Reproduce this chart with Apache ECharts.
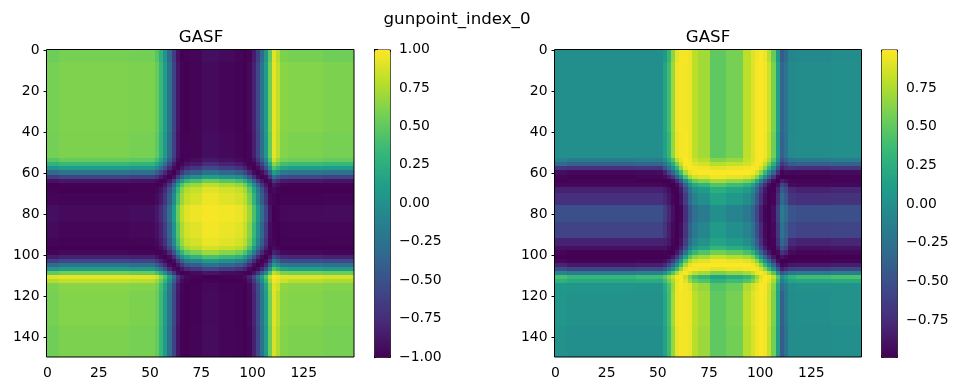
<!DOCTYPE html>
<html>
<head>
<meta charset="utf-8">
<style>html,body{margin:0;background:#fff}#main{width:958px;height:391px}</style>
<script src="https://cdn.jsdelivr.net/npm/echarts@6/dist/echarts.min.js"></script>
</head>
<body>
<div id="main"></div>
<script>
// band edges on the image index, narrow where the picture changes fast
const bandEdges = [0,6,40,53,55,57,59,61,63,65,67,70,76,84,92,96,98,100,102,104,106,108,110,112,114,118,135,150];

const xTicks = [0,25,50,75,100,125];
const yTicks = [0,20,40,60,80,100,120,140];
const barTicksLeft = [-1,-0.75,-0.5,-0.25,0,0.25,0.5,0.75,1];
const barTicksRight = [-0.75,-0.5,-0.25,0,0.25,0.5,0.75];
const rangeLeft = [-1,1];
const rangeRight = [-0.988,0.9985];
const viridis = ['#440154','#482878','#3e4989','#31688e','#26828e','#1f9e89','#35b779','#6ece58','#b5de2b','#fde725'];

// left image, upper triangle, values x100, mirrored below the diagonal
const leftTri = [
[55,58,57,47,28,3,-31,-64,-91,-100,-99,-97,-92,-95,-97,-100,-98,-85,-62,-31,3,50,91,77,60,58,56],
[61,60,53,34,10,-24,-59,-88,-99,-100,-98,-95,-97,-99,-100,-96,-81,-56,-24,10,56,93,81,64,62,60],
[58,50,31,7,-28,-62,-90,-99,-99,-98,-93,-96,-98,-100,-97,-83,-59,-28,7,53,92,79,62,60,58],
[37,17,-7,-41,-72,-95,-100,-97,-94,-87,-91,-95,-98,-99,-90,-69,-41,-7,41,85,69,57,54,52],
[-3,-28,-59,-85,-99,-97,-90,-85,-75,-81,-86,-93,-99,-97,-83,-59,-28,21,64,53,39,36,33],
[-50,-77,-95,-99,-88,-77,-69,-57,-64,-71,-81,-94,-100,-94,-77,-50,-3,44,31,16,12,9],
[-94,-100,-88,-67,-50,-41,-26,-34,-42,-56,-77,-94,-100,-94,-77,-37,10,-3,-19,-22,-26],
[-91,-64,-34,-14,-3,12,3,-5,-21,-47,-74,-93,-100,-95,-69,-28,-41,-54,-57,-60],
[-24,10,31,41,54,47,39,24,-3,-37,-67,-88,-99,-94,-67,-77,-86,-87,-89],
[44,62,69,80,74,68,56,31,-3,-37,-67,-88,-100,-88,-94,-98,-99,-99],
[77,83,91,87,82,72,50,17,-17,-50,-77,-98,-96,-99,-100,-100,-100],
[88,95,91,87,79,59,28,-7,-41,-69,-95,-98,-100,-99,-99,-98],
[98,97,94,87,71,42,9,-26,-57,-89,-100,-99,-96,-95,-94],
[94,91,83,64,34,0,-34,-64,-93,-99,-100,-98,-97,-97],
[87,78,57,26,-9,-42,-71,-96,-98,-100,-99,-99,-98],
[67,44,10,-24,-56,-81,-99,-94,-98,-100,-100,-100],
[17,-17,-50,-77,-94,-99,-81,-88,-95,-96,-97],
[-50,-77,-94,-100,-88,-56,-67,-78,-80,-82],
[-94,-100,-94,-67,-24,-37,-52,-54,-57],
[-94,-77,-37,10,-3,-19,-22,-26],
[-50,-3,44,31,16,12,9],
[44,81,72,60,57,54],
[99,96,91,90,88],
[91,84,78,75],
[66,64,62],
[62,60],
[58]
];

// right image, upper triangle, values x100, sign flips below the diagonal
const rightTri = [
[0,0,0,10,31,66,92,97,98,95,80,72,50,58,80,90,96,100,95,79,53,7,-41,-28,-8,-5,-2],
[0,0,17,37,70,95,98,97,95,80,72,50,58,80,90,98,99,97,85,59,14,-34,-21,-5,-2,0],
[0,14,34,68,93,97,98,95,80,72,50,58,80,90,98,100,96,83,56,10,-37,-24,-4,-2,0],
[0,21,44,80,93,100,96,85,78,63,69,82,90,97,100,91,74,44,-3,-50,-37,-22,-19,-16],
[0,24,56,83,99,98,91,87,78,83,87,94,100,96,81,56,24,-24,-67,-56,-42,-39,-36],
[0,34,67,93,100,98,96,91,94,97,99,98,87,64,34,0,-47,-83,-74,-68,-72,-68],
[0,37,74,93,98,100,100,100,100,97,87,64,34,0,-34,-74,-97,-93,-94,-95,-93],
[0,44,72,85,90,96,93,89,81,62,31,-3,-37,-67,-94,-99,-100,-99,-98,-97],
[0,34,53,62,73,67,60,47,21,-14,-47,-74,-93,-99,-83,-90,-96,-97,-97],
[0,21,31,45,37,29,14,-14,-47,-74,-93,-100,-90,-59,-69,-93,-95,-94],
[0,10,26,17,9,-7,-34,-64,-87,-98,-98,-79,-41,-53,-75,-80,-78],
[0,16,7,-2,-17,-44,-72,-91,-100,-96,-72,-31,-44,-68,-72,-70],
[0,-9,-17,-33,-57,-82,-97,-100,-91,-60,-16,-29,-46,-50,-50],
[0,-9,-24,-50,-77,-94,-100,-94,-67,-24,-37,-54,-58,-57],
[0,-16,-42,-71,-91,-100,-97,-73,-33,-45,-76,-80,-78],
[0,-28,-59,-83,-97,-99,-83,-47,-59,-86,-90,-88],
[0,-34,-64,-87,-98,-95,-69,-79,-93,-96,-95],
[0,-34,-64,-87,-100,-90,-95,-99,-99,-100],
[0,-34,-64,-93,-99,-100,-98,-97,-97],
[0,-34,-74,-97,-93,-86,-85,-83],
[0,-47,-83,-74,-63,-60,-57],
[0,-47,-34,-19,-16,-12],
[0,14,29,38,42],
[0,16,19,22],
[0,2,3],
[0,2],
[0]
];

function cells(tri, lowerSign) {
  const out = [];
  for (let i = 0; i < tri.length; i++) {
    for (let k = 0; k < tri[i].length; k++) {
      const j = i + k;
      const v = tri[i][k] / 100;
      out.push([bandEdges[j] - 0.5, bandEdges[j + 1] - 0.5, bandEdges[i] - 0.5, bandEdges[i + 1] - 0.5, v]);
      if (j !== i) out.push([bandEdges[i] - 0.5, bandEdges[i + 1] - 0.5, bandEdges[j] - 0.5, bandEdges[j + 1] - 0.5, v * lowerSign]);
    }
  }
  return out;
}

function renderCell(params, api) {
  const a = api.coord([api.value(0), api.value(2)]);
  const b = api.coord([api.value(1), api.value(3)]);
  return {
    type: 'rect',
    shape: { x: Math.round(a[0]), y: Math.round(a[1]), width: Math.round(b[0]) - Math.round(a[0]), height: Math.round(b[1]) - Math.round(a[1]) },
    style: { fill: api.visual('color') }
  };
}

const font = 'DejaVu Sans';
const tickLabel = { color: '#000', fontFamily: font, fontSize: 13.9 };
const fmtBar = v => v.toFixed(2).replace('-', '\u2212');

function imgAxis(gridIndex, ticks, inverse, position) {
  return {
    type: 'value', gridIndex, min: -0.5, max: 149.5, inverse, position,
    splitLine: { show: false },
    axisLine: { show: false },
    axisTick: { show: true, length: 4, customValues: ticks, lineStyle: { color: '#000', width: 1 } },
    axisLabel: { ...tickLabel, margin: position === 'left' ? 7 : 9, padding: position === 'left' ? [2, 0, 0, 0] : 0, customValues: ticks, formatter: v => String(v) }
  };
}

function barAxis(gridIndex, range, ticks) {
  return {
    type: 'value', gridIndex, min: range[0], max: range[1], position: 'right',
    splitLine: { show: false },
    axisLine: { show: false },
    axisTick: { show: true, length: 4, customValues: ticks, lineStyle: { color: '#000', width: 1 } },
    axisLabel: { ...tickLabel, margin: 9, padding: [2, 0, 0, 0], customValues: ticks, formatter: fmtBar }
  };
}

const chart = echarts.init(document.getElementById('main'), null, { renderer: 'canvas' });
const frame = { show: true, z: 5, backgroundColor: 'transparent', borderColor: '#000', borderWidth: 1 };
const titleStyle = { fontFamily: font, fontSize: 16.67, fontWeight: 'normal', color: '#000' };

chart.setOption({
  animation: false,
  backgroundColor: '#fff',
  title: [
    { text: 'gunpoint_index_0', left: 452, top: 6, textAlign: 'center', textStyle: titleStyle },
    { text: 'GASF', left: 196, top: 24, textAlign: 'center', textStyle: titleStyle },
    { text: 'GASF', left: 703, top: 24, textAlign: 'center', textStyle: titleStyle }
  ],
  grid: [
    { left: 46.5, top: 49.5, width: 307.5, height: 307.5, ...frame },
    { left: 554.5, top: 49.5, width: 307, height: 307.5, ...frame },
    { left: 374, top: 49.5, width: 16, height: 307.5, show: false },
    { left: 881, top: 49.5, width: 16, height: 307.5, show: false }
  ],
  xAxis: [
    imgAxis(0, xTicks, false, 'bottom'),
    imgAxis(1, xTicks, false, 'bottom'),
    { type: 'value', gridIndex: 2, show: false },
    { type: 'value', gridIndex: 3, show: false }
  ],
  yAxis: [
    imgAxis(0, yTicks, true, 'left'),
    imgAxis(1, yTicks, true, 'left'),
    barAxis(2, rangeLeft, barTicksLeft),
    barAxis(3, rangeRight, barTicksRight)
  ],
  visualMap: [
    { type: 'continuous', seriesIndex: 0, dimension: 4, min: rangeLeft[0], max: rangeLeft[1], left: 374, top: 49.5, itemWidth: 16, itemHeight: 307.5, padding: 0, borderColor: '#000', borderWidth: 1, hoverLink: false, realtime: false, inRange: { color: viridis } },
    { type: 'continuous', seriesIndex: 1, dimension: 4, min: rangeRight[0], max: rangeRight[1], left: 881, top: 49.5, itemWidth: 16, itemHeight: 307.5, padding: 0, borderColor: '#000', borderWidth: 1, hoverLink: false, realtime: false, inRange: { color: viridis } }
  ],
  series: [
    { type: 'custom', name: 'GASF left', xAxisIndex: 0, yAxisIndex: 0, renderItem: renderCell, encode: { x: [0, 1], y: [2, 3] }, data: cells(leftTri, 1) },
    { type: 'custom', name: 'GASF right', xAxisIndex: 1, yAxisIndex: 1, renderItem: renderCell, encode: { x: [0, 1], y: [2, 3] }, data: cells(rightTri, -1) }
  ]
});
</script>
</body>
</html>
